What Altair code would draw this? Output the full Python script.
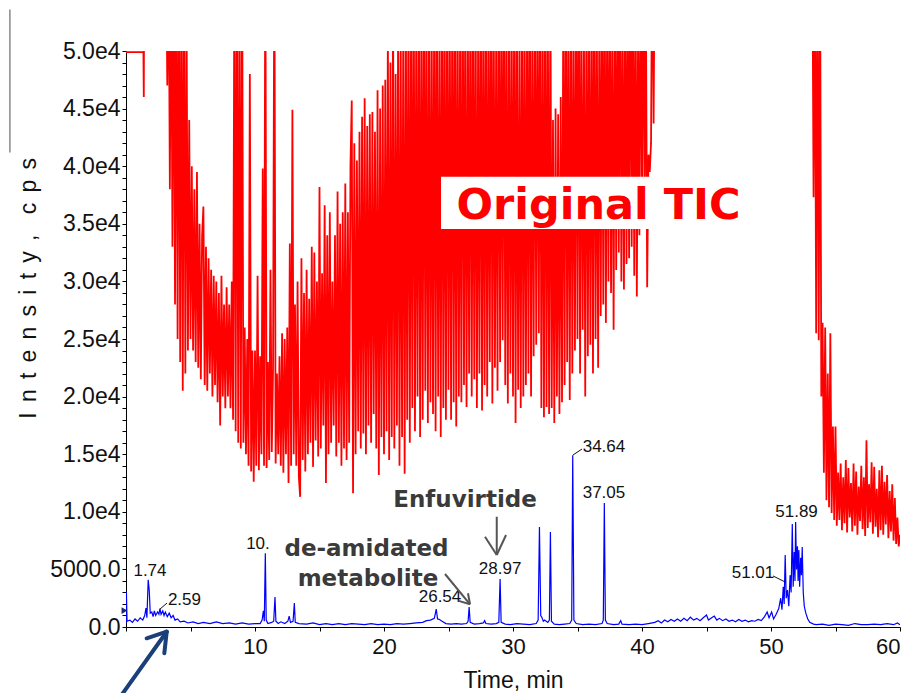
import altair as alt
import pandas as pd

# ---------------- data (intensity in kcps, time in min) ----------------
# Original TIC (red), sampled every 0.1 min; values above 50 are off-scale
tic_early_time = [0.0, 1.35, 1.38, 1.42, 3.0]
tic_early = [49.9, 49.9, 46.0, 62.0, 62.0]

tic_main_start = 3.1
tic_step = 0.1
tic_main = [
    60, 47, 60, 38, 60, 33, 60, 28, 58,
    25, 60, 23, 57, 20.5, 60, 22, 52, 24, 44,
    25, 40, 24, 38, 23, 39.5, 22.5, 35, 21.5, 34,
    36.5, 21, 33, 20.5, 32, 22, 31, 20, 30.5, 21,
    30, 19.5, 29, 17.5, 30.5, 20, 28, 19, 29.5, 20,
    28, 19, 30, 18, 58, 17, 60, 16, 55, 15.5,
    60, 16, 26, 15, 25, 14, 48, 13.5, 24, 12.6,
    24, 14, 30.5, 13.6, 23.5, 15, 39.8, 14, 60, 13.8,
    23, 14.5, 31, 15.2, 22.5, 60, 14.2, 22, 15, 23.5,
    14, 25.5, 13.4, 25, 15, 26, 12.5, 33.3, 14, 44.9,
    15, 28, 14, 30, 13, 11.3, 32, 14.5, 29, 13.5,
    31, 15, 28.5, 16, 33, 13.9, 32.5, 16.2, 30, 14.8,
    38.2, 15.5, 30.7, 17.5, 36.6, 12.5, 34, 15, 36, 16,
    30, 17.5, 34, 14.8, 37.8, 16, 35, 14, 36, 15.5,
    38.5, 14.5, 36, 16, 40, 45.7, 11.6, 42, 15, 40.5,
    17, 43, 15.5, 44.3, 16.8, 45.9, 15, 43.5, 17.5, 44.5,
    16, 44.7, 18.5, 43, 15.5, 46.6, 13.2, 45, 16.5, 47,
    15, 47.5, 17, 52, 14.5, 49, 16.5, 55, 15.5, 48,
    17.5, 55, 14, 50, 16.5, 56, 13.3, 52, 18, 58,
    16, 54, 19, 60, 17, 53, 20, 58, 16.5, 55,
    18, 60, 20.5, 54, 17.7, 57, 19.5, 52, 18.5, 60,
    17, 56, 20, 53, 16.5, 60, 19, 55, 18, 58,
    20.6, 54, 18, 60, 19.5, 55, 17.4, 58, 20, 53,
    19.5, 60, 21, 56, 19.1, 54, 22, 59, 20, 55,
    21.5, 57, 19, 53, 22, 60, 18.8, 55, 21, 58,
    20, 54, 23, 60, 19.4, 56, 22.5, 53, 20.5, 59,
    23, 55, 24.9, 60, 21, 54, 19.4, 57, 22, 53,
    20, 60, 17.7, 55, 20.6, 52, 19, 58, 20, 54,
    21, 56, 22, 60, 20, 53, 23.5, 57, 24.5, 55,
    25.5, 59, 19, 54, 18.2, 60, 19.1, 55, 18.5, 57,
    19, 44, 17.7, 45, 20, 44.5, 18.5, 46, 19.5, 56,
    21, 60, 23, 54, 19.7, 58, 22, 53, 24, 57,
    25, 60, 22, 55, 25.8, 52, 20, 58, 23.5, 54,
    24.5, 56, 22, 60, 25, 53, 22.5, 57, 27, 55,
    28, 60, 26.4, 54, 30, 58, 29, 53, 25.8, 57,
    31, 55, 32.5, 60, 30, 52, 29.3, 58, 31.5, 54,
    32, 60, 33, 55, 30.5, 57, 28.7, 53, 34, 58,
    36, 60, 37, 55, 29.5, 41, 39.5, 42, 62, 43.7,
    62,
]
tic_gap_time = [41.5, 53.0, 53.1]
tic_gap = [70.0, 70.0, 62.0]

tic_late_start = 53.2
tic_late = [
    60, 37.3, 60, 25.5, 58, 24.9, 60, 20,
    26.4, 13.4, 26, 11, 22, 10.4, 25.5, 9.9, 17.4, 9.3,
    17.4, 8.8, 13.4, 9.3, 14.2, 8.4, 13, 9, 14.5, 8.2,
    13.8, 9.5, 12.5, 8.3, 14.2, 8.8, 13.5, 8, 12.2, 9.2,
    14, 8.5, 13, 7.9, 16.2, 8.6, 12.4, 9.1, 14.3, 8.1,
    13.9, 8.7, 12, 7.8, 13.6, 8.4, 14, 8, 12.6, 8.9,
    13.2, 7.7, 11.8, 8.3, 12.4, 7.5, 11.2, 7.2, 9.5, 7,
    8,
]

# Extracted chromatogram (blue): (time, kcps)
xic_early = [
    (0.0, 0.3), (0.03, 3.1), (0.08, 0.5), (0.3, 0.6), (0.5, 0.4), (0.7, 0.7),
    (0.9, 0.5), (1.1, 0.8), (1.3, 0.6), (1.45, 1.0), (1.55, 1.65), (1.62, 0.8),
    (1.72, 4.1), (1.8, 3.2), (1.88, 1.2), (2.0, 1.3), (2.1, 0.9), (2.2, 1.4),
    (2.3, 1.0), (2.45, 1.3), (2.55, 1.1), (2.63, 1.6), (2.72, 1.1), (2.85, 1.4),
    (2.95, 1.0), (3.05, 1.3), (3.2, 0.9), (3.35, 1.2), (3.5, 0.8), (3.65, 1.0),
    (3.8, 0.6), (4.0, 0.7), (4.2, 0.45), (4.5, 0.5), (4.8, 0.35), (5.2, 0.45),
    (5.6, 0.3), (6.0, 0.4), (6.5, 0.3), (7.0, 0.45), (7.5, 0.3), (8.0, 0.35),
    (8.5, 0.25), (9.0, 0.35), (9.5, 0.25), (10.0, 0.3), (10.4, 0.3),
    (10.55, 0.6), (10.65, 1.4), (10.72, 0.5), (10.8, 6.4), (10.87, 0.6),
    (11.0, 0.3), (11.3, 0.4), (11.45, 0.5), (11.55, 2.6), (11.62, 0.5),
    (11.8, 0.3), (12.0, 0.45), (12.3, 0.3), (12.55, 0.5), (12.65, 0.95),
    (12.75, 0.4), (12.95, 0.5), (13.05, 2.08), (13.12, 0.4), (13.4, 0.3),
]
xic_mid = [
    (14.0, 0.25), (14.5, 0.35), (15.0, 0.2), (15.5, 0.3), (16.0, 0.2),
    (16.5, 0.3), (17.0, 0.2), (17.5, 0.3), (18.0, 0.25), (18.5, 0.2),
    (19.0, 0.3), (19.5, 0.2), (20.0, 0.25), (20.5, 0.2), (21.0, 0.3),
    (21.5, 0.25), (22.0, 0.3), (22.5, 0.35), (23.0, 0.4), (23.3, 0.55),
    (23.6, 0.6), (23.9, 0.75), (24.05, 1.56), (24.15, 0.7), (24.3, 0.65),
    (24.5, 0.5), (24.8, 0.3), (25.2, 0.25), (25.6, 0.3), (26.0, 0.25),
    (26.4, 0.3), (26.52, 0.5), (26.6, 1.74), (26.68, 0.4), (27.0, 0.25),
    (27.4, 0.3), (27.7, 0.35), (27.8, 0.55), (27.9, 0.3), (28.3, 0.25),
    (28.7, 0.3), (28.9, 0.4), (29.0, 4.17), (29.08, 0.4), (29.4, 0.25),
    (29.8, 0.2), (30.3, 0.3), (30.8, 0.25), (31.3, 0.2), (31.8, 0.3),
    (31.95, 0.6), (32.05, 8.68), (32.15, 1.0), (32.25, 0.8), (32.35, 0.5),
    (32.45, 0.6), (32.7, 0.4), (32.82, 0.6), (32.9, 8.25), (32.98, 0.5),
    (33.2, 0.25), (33.6, 0.2), (34.0, 0.25), (34.4, 0.3), (34.55, 0.6),
    (34.63, 14.9), (34.72, 0.6), (34.9, 0.3), (35.4, 0.2), (35.9, 0.25),
    (36.4, 0.2), (36.9, 0.3), (37.0, 0.6), (37.08, 10.76), (37.16, 0.6),
    (37.3, 0.3), (37.8, 0.2), (38.2, 0.25), (38.35, 0.55), (38.45, 0.25),
    (39.0, 0.2), (39.5, 0.25), (40.0, 0.2), (40.5, 0.3),
]
xic_late = [
    (41.0, 0.4), (41.25, 0.55), (41.5, 0.35), (41.75, 0.6), (42.0, 0.45),
    (42.25, 0.65), (42.5, 0.5), (42.75, 0.7), (43.0, 0.5), (43.25, 0.75),
    (43.5, 0.55), (43.75, 0.85), (44.0, 0.6), (44.25, 0.75), (44.5, 0.55),
    (44.75, 0.8), (45.0, 1.04), (45.15, 0.6), (45.4, 0.8), (45.6, 0.95),
    (45.8, 0.6), (46.0, 0.75), (46.25, 0.55), (46.5, 0.7), (46.75, 0.5),
    (47.0, 0.6), (47.25, 0.45), (47.5, 0.65), (47.75, 0.5), (48.0, 0.6),
    (48.25, 0.45), (48.5, 0.55), (48.75, 0.5), (49.0, 0.65), (49.25, 0.55),
    (49.5, 0.9), (49.7, 1.3), (49.85, 0.8), (50.05, 1.3), (50.2, 0.7),
    (50.4, 1.1), (50.6, 1.6), (50.75, 2.5), (50.85, 1.5), (50.95, 3.5),
    (51.02, 2.0), (51.1, 6.25), (51.18, 2.5), (51.28, 3.2), (51.38, 1.8),
    (51.48, 4.5), (51.56, 3.0), (51.65, 8.94), (51.72, 3.5), (51.8, 6.5),
    (51.86, 4.0), (51.91, 9.12), (51.98, 5.0), (52.05, 7.0), (52.1, 4.0),
    (52.16, 6.68), (52.22, 3.5), (52.3, 6.0), (52.36, 4.5), (52.42, 6.94),
    (52.5, 3.0), (52.58, 1.8), (52.7, 1.2), (52.85, 0.7), (53.0, 0.4),
    (53.3, 0.25), (53.5, 0.2), (54.0, 0.25), (54.5, 0.15), (55.0, 0.25),
    (55.5, 0.2), (56.0, 0.15), (56.5, 0.3), (57.0, 0.2), (57.5, 0.2),
    (58.0, 0.25), (58.5, 0.2), (59.0, 0.3), (59.5, 0.2), (59.8, 0.35),
    (60.0, 0.2),
]

# peak labels
peak_text = ["1.74", "2.59", "10.", "26.54", "28.97", "34.64", "37.05", "51.01", "51.89"]
peak_time = [1.86, 4.53, 10.23, 24.34, 29.0, 37.05, 37.05, 48.6, 51.98]
peak_int = [4.86, 2.34, 7.2, 2.6, 5.01, 15.6, 11.66, 4.71, 10.0]

# annotations
note_text = ["Enfuvirtide", "de-amidated", "metabolite"]
note_time = [26.28, 18.64, 18.76]
note_int = [11.0, 6.75, 4.17]

# ---------------- tables ----------------
red_rows = list(zip(tic_early_time, tic_early))
red_rows += [(round(tic_main_start + i * tic_step, 2), v) for i, v in enumerate(tic_main)]
red_rows += list(zip(tic_gap_time, tic_gap))
red_rows += [(round(tic_late_start + i * tic_step, 2), v) for i, v in enumerate(tic_late)]
red_df = pd.DataFrame(red_rows, columns=["t", "v"])

blue_df = pd.DataFrame(xic_early + xic_mid + xic_late, columns=["t", "v"])
peaks_df = pd.DataFrame({"t": peak_time, "v": peak_int, "label": peak_text})
notes_df = pd.DataFrame({"t": note_time, "v": note_int, "label": note_text})
tic_df = pd.DataFrame({"t": [36.63], "v": [36.55], "label": ["Original TIC"]})
box_df = pd.DataFrame({"t": [24.42], "t2": [47.0], "v": [34.55], "v2": [39.09]})
ytitle_df = pd.DataFrame({"t": [-7.55], "v": [29.4],
                          "label": [" \u2006".join("Intensity,") + " \u2006 \u2006" + " \u2006".join("cps")]})

leaders_df = pd.DataFrame({
    "t": [2.64, 34.65, 50.16], "v": [1.56, 14.93, 4.43],
    "t2": [3.18, 35.35, 51.09], "v2": [2.08, 15.45, 3.91],
})
gray_arrows_df = pd.DataFrame({
    "t":  [28.74, 27.83, 29.46, 24.73, 26.51, 25.79],
    "v":  [9.57, 7.84, 7.99, 4.6, 2.93, 2.27],
    "t2": [28.74, 28.74, 28.74, 26.67, 26.67, 26.67],
    "v2": [6.25, 6.25, 6.25, 1.97, 1.97, 1.97],
})
navy_arrow_df = pd.DataFrame({
    "t":  [-0.62, 1.60, 2.97],
    "v":  [-6.34, -0.98, -2.28],
    "t2": [3.155, 3.155, 3.155],
    "v2": [-0.41, -0.41, -0.41],
})
side_line_df = pd.DataFrame({"t": [-9.0], "v": [53.6], "t2": [-9.0], "v2": [41.2]})
marker_df = pd.DataFrame({"t": [-0.12], "v": [1.43]})

# ---------------- encodings ----------------
FONT = "Liberation Sans"
xscale = alt.Scale(domain=[0, 60], nice=False, zero=False)
yscale = alt.Scale(domain=[0, 50], nice=False, zero=False)
xaxis = alt.Axis(
    values=list(range(0, 61, 5)),
    labelExpr="datum.value % 10 == 0 && datum.value > 0 ? format(datum.value, 'd') : ''",
    title="Time, min", titleFontSize=23, titleFontWeight="normal", titleColor="#111",
    titlePadding=12, labelFontSize=22, labelColor="#111", labelPadding=5,
    tickSize=4, labelFlush=True, labelOverlap=False, labelBound=False,
    domainColor="#000", tickColor="#000", grid=False,
)
yaxis = alt.Axis(
    values=list(range(0, 51)),
    labelExpr=("datum.value == 0 ? '0.0' : datum.value == 5 ? '5000.0' : "
               "datum.value % 5 == 0 ? format(datum.value / 10, '.1f') + 'e4' : ''"),
    title=None, labelFontSize=23, labelColor="#111", labelPadding=2,
    tickSize=4, labelFlush=False, labelOverlap=False, labelBound=False,
    domainColor="#000", tickColor="#000", grid=False,
)


def X(f="t"):
    return alt.X(f"{f}:Q", scale=xscale, axis=xaxis)


def Y(f="v"):
    return alt.Y(f"{f}:Q", scale=yscale, axis=yaxis)


red = alt.Chart(red_df).mark_line(color="#ff0000", strokeWidth=1.8, clip=True).encode(
    x=X(), y=Y(), order="t:Q")
blue = alt.Chart(blue_df).mark_line(color="#0000ff", strokeWidth=1.2, clip=True).encode(
    x=X(), y=Y(), order="t:Q")

box = alt.Chart(box_df).mark_rect(color="white").encode(
    x=X(), x2="t2:Q", y=Y(), y2="v2:Q")
tic_label = alt.Chart(tic_df).mark_text(
    font="DejaVu Sans", fontWeight="bold", fontSize=43, color="#ff0000",
    baseline="middle", align="center").encode(x=X(), y=Y(), text="label:N")

peaks = alt.Chart(peaks_df).mark_text(
    font=FONT, fontSize=17, color="#111", align="center", baseline="middle").encode(
    x=X(), y=Y(), text="label:N")
notes = alt.Chart(notes_df).mark_text(
    font="DejaVu Sans", fontWeight="bold", fontSize=23, color="#3a3a3a",
    align="center", baseline="middle").encode(x=X(), y=Y(), text="label:N")
ytitle = alt.Chart(ytitle_df).mark_text(
    font=FONT, fontSize=23, color="#111", angle=270,
    align="center", baseline="middle").encode(x=X(), y=Y(), text="label:N")

leaders = alt.Chart(leaders_df).mark_rule(color="#111", strokeWidth=1).encode(
    x=X(), x2="t2:Q", y=Y(), y2="v2:Q")
gray_arrows = alt.Chart(gray_arrows_df).mark_rule(color="#555", strokeWidth=2).encode(
    x=X(), x2="t2:Q", y=Y(), y2="v2:Q")
navy_arrow = alt.Chart(navy_arrow_df).mark_rule(
    color="#1b3f78", strokeWidth=4, strokeCap="round").encode(
    x=X(), x2="t2:Q", y=Y(), y2="v2:Q")
side_line = alt.Chart(side_line_df).mark_rule(color="#888", strokeWidth=1.5).encode(
    x=X(), x2="t2:Q", y=Y(), y2="v2:Q")
marker = alt.Chart(marker_df).mark_point(
    shape="triangle-right", filled=True, size=45, color="#1a2a6c", opacity=1).encode(
    x=X(), y=Y())

chart = alt.layer(
    red, blue, box, tic_label, peaks, notes, ytitle, leaders, gray_arrows, navy_arrow,
    side_line, marker,
).properties(
    width=774, height=576,
    padding={"left": 118, "top": 43, "right": 5, "bottom": 66},
    autosize=alt.AutoSizeParams(type="none"),
).configure_view(stroke=None).configure_axis(
    labelFont=FONT, titleFont=FONT,
)

chart.save("out.html", embed_options={"renderer": "svg", "actions": False})
